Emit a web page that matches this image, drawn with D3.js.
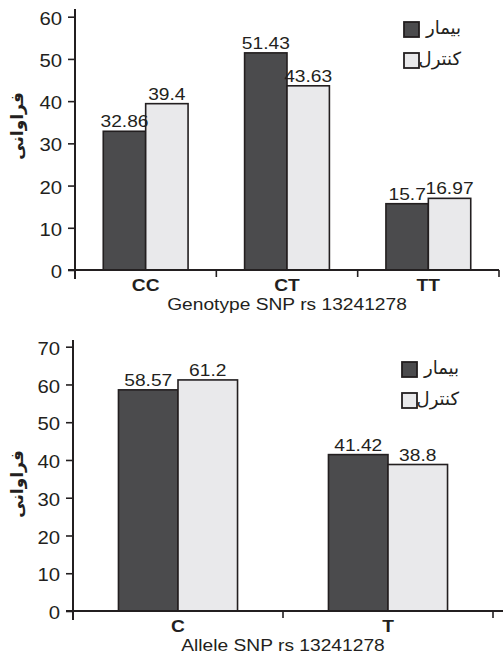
<!DOCTYPE html>
<html>
<head>
<meta charset="utf-8">
<script src="https://cdn.jsdelivr.net/npm/d3@7"></script>
<style>
  html, body { margin: 0; padding: 0; background: #fff; }
  svg { display: block; }
  text { fill: #231f20; }
</style>
</head>
<body>
<svg id="chart" width="503" height="658"></svg>
<script>
// Genotype frequencies (%) for SNP rs 13241278
const genotypeCategories = ["CC", "CT", "TT"];
const genotypePatient = [32.86, 51.43, 15.7];
const genotypeControl = [39.4, 43.63, 16.97];
const genotypeTicks = [0, 10, 20, 30, 40, 50, 60];

// Allele frequencies (%) for SNP rs 13241278
const alleleCategories = ["C", "T"];
const allelePatient = [58.57, 41.42];
const alleleControl = [61.2, 38.8];
const alleleTicks = [0, 10, 20, 30, 40, 50, 60, 70];

const seriesNames = ["بیمار", "کنترل"];
const seriesColors = ["#4b4b4d", "#e9e9eb"];
const yAxisTitle = "فراوانی";
const genotypeTitle = "Genotype SNP rs 13241278";
const alleleTitle = "Allele SNP rs 13241278";

const INK = "#231f20";
const LATIN = "Arial, 'Liberation Sans', Helvetica, sans-serif";
const ARABIC = "'DejaVu Sans', 'Noto Sans', sans-serif";
const SX = 1.13; // horizontal stretch of the lettering

const svg = d3.select("#chart");

function stretchedText(g, x, y, str, size, anchor, weight) {
  return g.append("text")
    .attr("transform", `translate(${x},${y}) scale(${SX},1)`)
    .attr("text-anchor", anchor)
    .attr("font-family", LATIN)
    .attr("font-size", size)
    .attr("font-weight", weight || "normal")
    .text(str);
}

function drawPanel(cfg) {
  const g = svg.append("g");
  const x = d3.scaleBand().domain(cfg.categories).range([cfg.left, cfg.right]);
  const y = d3.scaleLinear().domain([0, d3.max(cfg.ticks)]).range([cfg.bottom, cfg.top]);
  const bw = x.bandwidth();
  const xs = d3.scaleBand().domain(seriesNames)
    .range([bw * (1 - cfg.groupFrac) / 2, bw * (1 + cfg.groupFrac) / 2]);

  const rows = cfg.categories.map((c, i) => ({
    cat: c,
    vals: [cfg.patient[i], cfg.control[i]]
  }));

  // bars
  const groups = g.selectAll("g.cat").data(rows).join("g")
    .attr("class", "cat")
    .attr("transform", d => `translate(${x(d.cat)},0)`);
  groups.selectAll("rect").data(d => d.vals.map((v, k) => ({ v, k })))
    .join("rect")
    .attr("x", d => xs(seriesNames[d.k]))
    .attr("width", xs.bandwidth())
    .attr("y", d => y(d.v))
    .attr("height", d => y(0) - y(d.v))
    .attr("fill", d => seriesColors[d.k])
    .attr("stroke", INK)
    .attr("stroke-width", 1.6);

  // value labels
  groups.each(function (d) {
    const gg = d3.select(this);
    d.vals.forEach((v, k) => {
      stretchedText(gg, xs(seriesNames[k]) + xs.bandwidth() / 2, y(v) - 4,
        String(v), 17, "middle");
    });
  });

  // y axis
  const ya = g.append("g")
    .attr("transform", `translate(${cfg.left},0)`)
    .call(d3.axisLeft(y).tickValues(cfg.ticks).tickSize(7).tickPadding(6));
  ya.select(".domain").remove();
  ya.selectAll(".tick line").attr("stroke", INK).attr("stroke-width", 1.6);
  ya.selectAll(".tick text")
    .attr("x", -13 / SX)
    .attr("dy", "0.42em")
    .attr("transform", `scale(${SX},1)`)
    .attr("font-family", LATIN)
    .attr("font-size", 18)
    .attr("fill", INK);
  g.append("line")
    .attr("x1", cfg.left).attr("x2", cfg.left)
    .attr("y1", cfg.axisTop).attr("y2", cfg.bottom + 9)
    .attr("stroke", INK).attr("stroke-width", 2);

  // x axis
  g.append("line")
    .attr("x1", cfg.left - 7).attr("x2", cfg.axisRight)
    .attr("y1", cfg.bottom).attr("y2", cfg.bottom)
    .attr("stroke", INK).attr("stroke-width", 2);
  cfg.categories.forEach(c => {
    g.append("line")
      .attr("x1", x(c) + bw).attr("x2", x(c) + bw)
      .attr("y1", cfg.bottom).attr("y2", cfg.bottom + 7)
      .attr("stroke", INK).attr("stroke-width", 1.6);
    stretchedText(g, x(c) + bw / 2, cfg.bottom + 21, c, 17, "middle", "bold");
  });
  stretchedText(g, (cfg.left + cfg.right) / 2, cfg.bottom + 40, cfg.title, 17, "middle");

  // y axis title
  g.append("text")
    .attr("transform", `translate(23,${cfg.yTitleY}) rotate(-90)`)
    .attr("text-anchor", "middle")
    .attr("font-family", ARABIC)
    .attr("font-size", 17)
    .attr("font-weight", "bold")
    .text(yAxisTitle);

  // legend
  seriesNames.forEach((s, k) => {
    const ly = cfg.legendY + k * 31;
    g.append("rect")
      .attr("x", cfg.legendX).attr("y", ly)
      .attr("width", 15).attr("height", 15)
      .attr("fill", seriesColors[k])
      .attr("stroke", INK).attr("stroke-width", 1.8);
    g.append("text")
      .attr("x", cfg.legendX + 57).attr("y", ly + 12)
      .attr("text-anchor", "end")
      .attr("font-family", ARABIC)
      .attr("font-size", 18)
      .text(s);
  });
}

drawPanel({
  categories: genotypeCategories, patient: genotypePatient, control: genotypeControl,
  ticks: genotypeTicks, title: genotypeTitle,
  left: 75, right: 499, axisRight: 499, top: 16.7, bottom: 270, axisTop: 9,
  groupFrac: 0.6, yTitleY: 126, legendX: 404, legendY: 22
});

drawPanel({
  categories: alleleCategories, patient: allelePatient, control: alleleControl,
  ticks: alleleTicks, title: alleleTitle,
  left: 73, right: 493, axisRight: 503, top: 346.7, bottom: 611, axisTop: 340,
  groupFrac: 0.567, yTitleY: 484, legendX: 402, legendY: 362
});
</script>
</body>
</html>
